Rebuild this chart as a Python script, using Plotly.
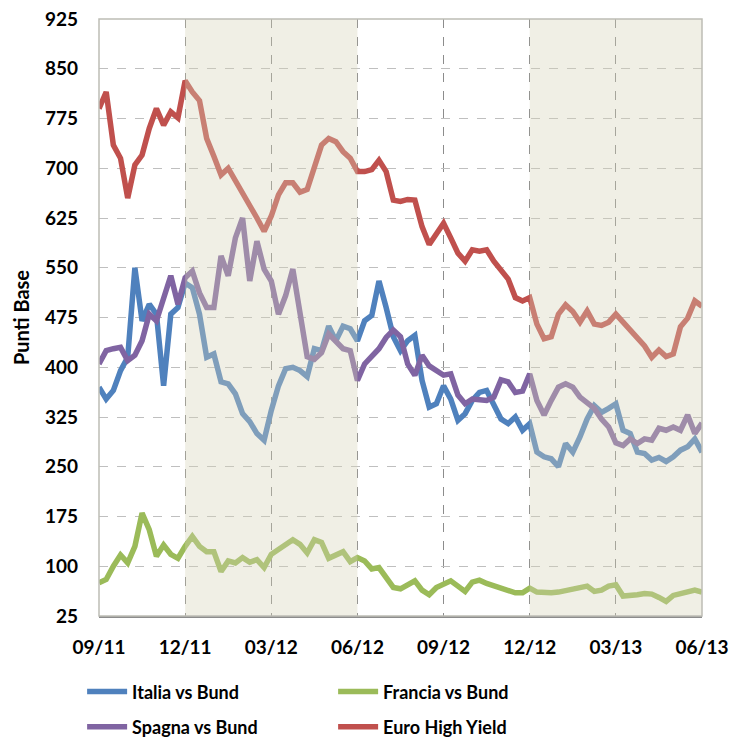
import numpy as np
import plotly.graph_objects as go

# Weekly spreads (basis points), from 09/11 to 06/13
months = np.arange(85) / 4  # months elapsed since 09/11

italia = [370, 352, 365, 395, 415, 550, 470, 495, 480, 372, 480, 490,
          527, 520, 480, 415, 420, 378, 375, 360, 330, 318, 300, 290,
          335, 372, 398, 400, 395, 386, 428, 425, 462, 440, 462, 458,
          440, 470, 478, 530, 490, 446, 425, 440, 448, 380, 340, 345,
          372, 352, 320, 330, 350, 362, 365, 342, 322, 315, 325, 305,
          315, 272, 265, 262, 250, 285, 272, 295, 322, 342, 332, 338,
          345, 305, 300, 272, 270, 260, 264, 258, 265, 275, 280, 292, 272]

francia = [75, 80, 100, 117, 105, 130, 180, 155, 115, 132, 118, 112,
           130, 145, 130, 122, 122, 92, 108, 105, 113, 106, 110, 98,
           118, 125, 132, 140, 133, 120, 140, 136, 112, 118, 122, 107,
           113, 108, 96, 98, 82, 68, 66, 72, 78, 64, 57, 68,
           74, 78, 70, 62, 76, 79, 74, 70, 67, 63, 60, 60,
           67, 61, 60, 60, 61, 63, 64, 68, 70, 62, 64, 70,
           72, 55, 55, 57, 59, 58, 53, 47, 56, 59, 62, 64, 61]

spagna = [405, 425, 428, 430, 410, 418, 440, 480, 470, 505, 538, 495,
          535, 545, 512, 490, 490, 568, 538, 595, 625, 530, 590, 548,
          530, 480, 508, 548, 480, 416, 412, 422, 450, 440, 428, 425,
          380, 405, 418, 428, 445, 456, 446, 405, 388, 418, 402, 395,
          388, 390, 358, 345, 352, 351, 350, 355, 381, 378, 362, 364,
          390, 350, 328, 350, 370, 375, 370, 355, 346, 338, 322, 310,
          286, 282, 292, 285, 292, 290, 308, 305, 310, 305, 328, 300, 316]

high_yield = [790, 815, 735, 715, 655, 705, 720, 760, 790, 765, 785, 776,
              832, 815, 802, 745, 718, 690, 700, 682, 663, 645, 625, 605,
              628, 660, 678, 678, 664, 668, 700, 735, 745, 740, 725, 715,
              695, 695, 698, 712, 695, 652, 650, 653, 652, 612, 585, 600,
              617, 595, 572, 560, 577, 575, 577, 560, 545, 533, 505, 500,
              505, 465, 443, 446, 480, 494, 484, 468, 485, 465, 463, 468,
              480, 468, 455, 445, 432, 415, 426, 416, 420, 461, 474, 500, 492]

tick_pos = [0, 3, 6, 9, 12, 15, 18, 21]
tick_labels = ["09/11", "12/11", "03/12", "06/12", "09/12", "12/12", "03/13", "06/13"]
y_ticks = list(range(25, 926, 75))

series = [
    ("Italia vs Bund", italia, "#4F81BD", "legend"),
    ("Francia vs Bund", francia, "#9BBB59", "legend"),
    ("Spagna vs Bund", spagna, "#8064A2", "legend2"),
    ("Euro High Yield", high_yield, "#C0504D", "legend2"),
]

fig = go.Figure()
for name, values, color, leg in series:
    fig.add_trace(go.Scatter(
        x=months, y=values, name=name, mode="lines",
        line=dict(color=color, width=5.5),
        legend=leg,
    ))

# Shaded periods, drawn over the lines so they look faded
for x0, x1 in [(3, 9), (15, 21)]:
    fig.add_shape(type="rect", xref="x", yref="y", x0=x0, x1=x1, y0=25, y1=925,
                  fillcolor="rgb(214,212,184)", opacity=0.36, line_width=0,
                  layer="above")

# Plot border (top / right)
fig.add_shape(type="rect", xref="paper", yref="paper", x0=0, x1=1, y0=0, y1=1,
              line=dict(color="#BDBDB5", width=1.5), layer="above")

font = dict(family="Lato", size=18, color="black", weight="bold")
legend_common = dict(orientation="h", x=-0.028, xanchor="left", yanchor="middle",
                     entrywidth=196, entrywidthmode="pixels", itemwidth=40,
                     font=font, bgcolor="rgba(0,0,0,0)")

fig.update_layout(
    width=731, height=739,
    margin=dict(l=99, r=29, t=19, b=123, autoexpand=False),
    paper_bgcolor="white", plot_bgcolor="white",
    font=font,
    showlegend=True,
    legend=dict(legend_common, y=-0.127),
    legend2=dict(legend_common, y=-0.186),
    annotations=[dict(text="Punti Base", xref="paper", yref="paper",
                      x=-0.13, y=0.5, xanchor="center", yanchor="middle",
                      textangle=-90, showarrow=False,
                      font=dict(family="Lato", size=20, color="black", weight="bold"))],
)

fig.update_xaxes(
    range=[0, 21], tickmode="array", tickvals=tick_pos, ticktext=tick_labels,
    tickfont=dict(family="Lato", size=19, color="black", weight="bold"),
    showgrid=True, gridcolor="#8C8C8C", griddash="dash", gridwidth=1,
    showline=True, linecolor="#8C8C8C", linewidth=2,
    ticks="", ticklabelstandoff=13, zeroline=False, ticklabeloverflow="allow",
)
fig.update_yaxes(
    range=[24.99, 925.01], tickmode="array", tickvals=y_ticks,
    tickfont=dict(family="Lato", size=19, color="black", weight="bold"),
    showgrid=True, gridcolor="#BFBFBF", griddash="dash", gridwidth=1.3,
    showline=False, ticks="", ticklabelstandoff=20, zeroline=False,
    ticklabeloverflow="allow",
)

# drop the page's default body margin so the figure fills the window exactly
fig.write_html("out.html", config={"displayModeBar": False},
               post_script="document.body.style.margin = '0';")
